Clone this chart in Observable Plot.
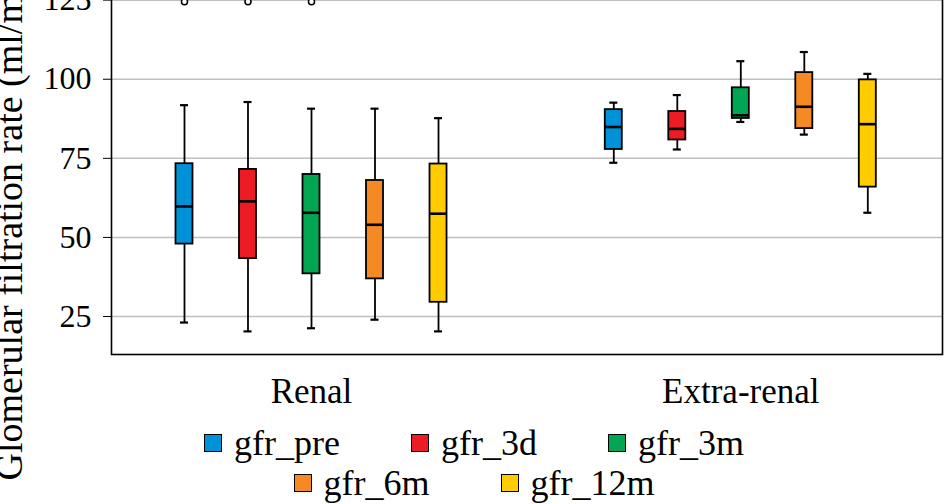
<!DOCTYPE html>
<html>
<head>
<meta charset="utf-8">
<script src="https://cdn.jsdelivr.net/npm/d3@7"></script>
<script src="https://cdn.jsdelivr.net/npm/@observablehq/plot@0.6"></script>
<style>
  html, body { margin: 0; padding: 0; background: #fff; width: 944px; height: 504px; overflow: hidden; }
  #chart { position: relative; width: 944px; height: 446px; margin-top: -31.6px; }
  #chart svg { position: absolute; left: 0; top: 0; }
  #chart svg, #chart svg text { font-family: 'Liberation Serif', serif !important; }
  #legend {
    display: flex; flex-wrap: wrap; justify-content: center; column-gap: 71px;
    width: 600px; margin: 0 auto; padding-top: 9px; padding-left: 4px; box-sizing: border-box;
    font-family: 'Liberation Serif', serif; font-size: 36px; line-height: 40px; color: #000;
  }
  #legend .item { display: flex; align-items: center; height: 40px; white-space: nowrap; }
  #legend .sw { width: 16px; height: 16px; border: 1.5px solid #000; margin-right: 12px; }
</style>
</head>
<body>
<div id="chart"></div>
<div id="legend"></div>
<script>
// ---- data ----
const groups = ["Renal", "Extra-renal"];
const series = ["gfr_pre", "gfr_3d", "gfr_3m", "gfr_6m", "gfr_12m"];
const colors = ["#0092D8", "#ED1C24", "#00A651", "#F58A25", "#FFCC00"];
const yTicks = [25, 50, 75, 100, 125];
const yLabel = "Glomerular filtration rate (ml/min/1.73 m²)";

// rows: Renal, Extra-renal; columns follow `series`
const whiskerLow  = [[23.1, 20.3, 21.3, 24.0, 20.3], [73.6, 77.8, 86.5, 82.5, 57.8]];
const quart1      = [[47.9, 43.3, 38.5, 36.9, 29.5], [77.8, 80.8, 87.6, 84.4, 65.9]];
const medians     = [[59.8, 61.4, 57.8, 54.0, 57.5], [84.9, 84.3, 88.6, 91.3, 85.8]];
const quart3      = [[73.3, 71.5, 69.9, 68.0, 73.2], [90.4, 89.8, 97.3, 102.1, 99.8]];
const whiskerHigh = [[91.8, 92.8, 90.7, 90.7, 87.7], [92.6, 95.0, 105.7, 108.6, 101.7]];
const outliers    = [[124.5, 124.5, 124.5, null, null], [null, null, null, null, null]];

const rows = [];
groups.forEach((g, gi) => series.forEach((s, si) => rows.push({
  group: g, series: s,
  lo: whiskerLow[gi][si], q1: quart1[gi][si], med: medians[gi][si],
  q3: quart3[gi][si], hi: whiskerHigh[gi][si], out: outliers[gi][si]
})));

// ---- layout ----
const W = 944, H = 446, mL = 111, mR = 2, mT = 0, mB = 60;
const yDomain = [13, 135];
const font = "'Liberation Serif', serif";

// background: grid, frame, y axis, y label
const back = Plot.plot({
  width: W, height: H, marginLeft: mL, marginRight: mR, marginTop: mT, marginBottom: mB,
  style: {fontFamily: font, fontSize: "32px", color: "black", background: "transparent", overflow: "visible"},
  y: {domain: yDomain, ticks: yTicks, tickSize: 8, tickPadding: 12, label: null},
  marks: [
    Plot.ruleY(yTicks, {stroke: "#bfbfbf", strokeWidth: 1.5}),
    Plot.frame({stroke: "black", strokeWidth: 1.6}),
    Plot.text([yLabel], {
      text: d => d, frameAnchor: "bottom-left", rotate: -90, fontFamily: font,
      textAnchor: "start", lineAnchor: "bottom", dx: -90, dy: 126, fontSize: 38, fill: "black"
    })
  ]
});

// foreground: boxes, faceted by group
const fore = Plot.plot({
  width: W, height: H, marginLeft: mL, marginRight: mR, marginTop: mT, marginBottom: mB,
  style: {fontFamily: font, fontSize: "35px", color: "black", background: "transparent", overflow: "visible"},
  facet: {data: rows, x: "group"},
  fx: {domain: groups, range: [96.35, 954.95], padding: 0, round: false, label: null,
       axis: "bottom", tickSize: 0, tickPadding: 24},
  x: {domain: series, paddingInner: 0.732, paddingOuter: 1.246, round: false, axis: null},
  y: {domain: yDomain, axis: null},
  color: {domain: series, range: colors},
  marks: [
    Plot.ruleX(rows, {x: "series", y1: "lo", y2: "hi", stroke: "black", strokeWidth: 1.8}),
    Plot.tickY(rows, {x: "series", y: "lo", insetLeft: 4.5, insetRight: 4.5, stroke: "black", strokeWidth: 2.2}),
    Plot.tickY(rows, {x: "series", y: "hi", insetLeft: 4.5, insetRight: 4.5, stroke: "black", strokeWidth: 2.2}),
    Plot.barY(rows, {x: "series", y1: "q1", y2: "q3", fill: "series", stroke: "black", strokeWidth: 1.8}),
    Plot.tickY(rows, {x: "series", y: "med", stroke: "black", strokeWidth: 2.6}),
    Plot.dot(rows, {x: "series", y: "out", r: 3, stroke: "black", fill: "white", strokeWidth: 1.5})
  ]
});

const chart = document.getElementById("chart");
chart.appendChild(back);
chart.appendChild(fore);

// legend
const legend = document.getElementById("legend");
series.forEach((s, i) => {
  const item = document.createElement("div");
  item.className = "item";
  const sw = document.createElement("span");
  sw.className = "sw";
  sw.style.background = colors[i];
  const t = document.createElement("span");
  t.textContent = s;
  item.appendChild(sw);
  item.appendChild(t);
  legend.appendChild(item);
});
</script>
</body>
</html>
